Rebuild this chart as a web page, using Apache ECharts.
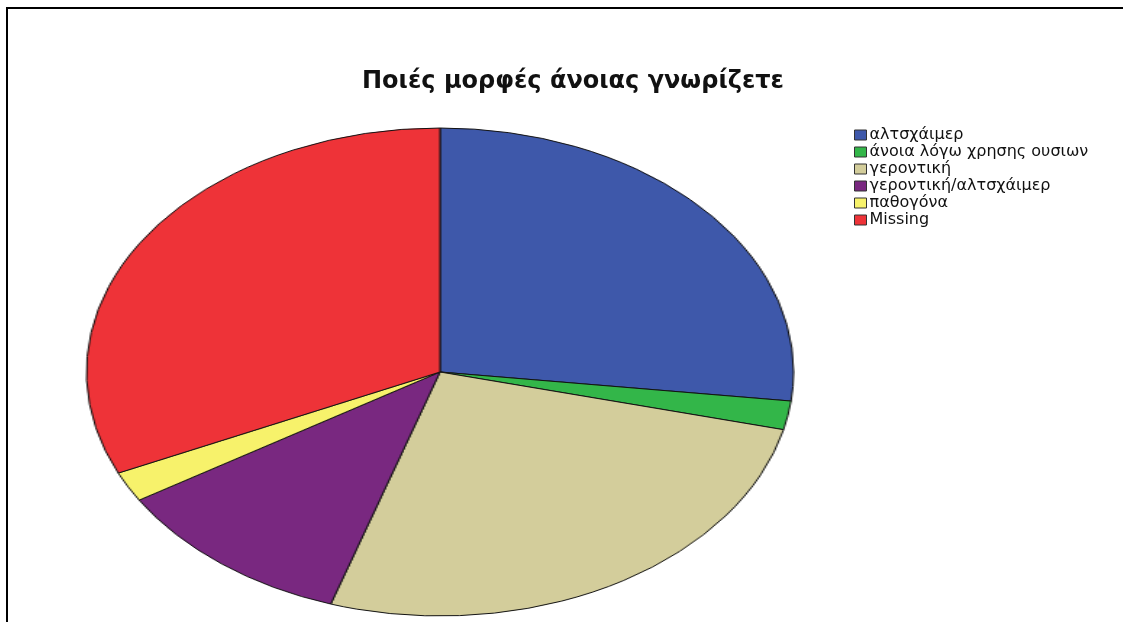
<!DOCTYPE html>
<html>
<head>
<meta charset="utf-8">
<script src="https://cdn.jsdelivr.net/npm/echarts@6/dist/echarts.min.js"></script>
<style>
  html, body { margin: 0; padding: 0; background: #fff; }
  #wrap { position: relative; width: 1123px; height: 622px; overflow: hidden; }
  #main { position: absolute; left: 0; top: 0; width: 1123px; height: 622px; }
  /* the pie is drawn round and stretched sideways into an ellipse */
  #pie { position: absolute; left: 195px; top: 127px; width: 490px; height: 490px;
         transform: scaleX(1.449); transform-origin: 245px 245px; }
</style>
</head>
<body>
<div id="wrap">
  <div id="main"></div>
  <div id="pie"></div>
</div>
<script>
const titleText = 'Ποιές μορφές άνοιας γνωρίζετε';
const categories = ['αλτσχάιμερ', 'άνοια λόγω χρησης ουσιων', 'γεροντική', 'γεροντική/αλτσχάιμερ', 'παθογόνα', 'Missing'];
// share of answers, in percent
const percents = [26.9, 1.9, 26.2, 11.2, 2.0, 31.8];
const colors = ['#3E58AA', '#33B649', '#D3CD9B', '#792880', '#F7F26B', '#EE3338'];

const pieData = categories.map((name, i) => ({ name, value: percents[i], itemStyle: { color: colors[i] } }));

const main = echarts.init(document.getElementById('main'), null, { renderer: 'canvas' });
main.setOption({
  animation: false,
  title: {
    text: titleText,
    left: 568,
    top: 65,
    textAlign: 'center',
    textStyle: { fontFamily: 'DejaVu Sans', fontSize: 24, fontWeight: 'bold', color: '#111' }
  },
  legend: {
    orient: 'vertical',
    left: 849,
    top: 122,
    icon: 'rect',
    itemWidth: 12,
    itemHeight: 10,
    itemGap: 1,
    selectedMode: false,
    itemStyle: { borderColor: '#333', borderWidth: 1 },
    textStyle: { fontFamily: 'DejaVu Sans', fontSize: 16, lineHeight: 15, color: '#111', padding: [0, 0, 0, -2] },
    data: categories
  },
  graphic: [{
    type: 'polyline',
    shape: { points: [[7, 622], [7, 8], [1123, 8]] },
    style: { stroke: '#000', lineWidth: 2, fill: null }
  }],
  series: [{
    // legend source only; the visible pie is the stretched one below
    type: 'pie',
    radius: [0, 0],
    center: [440, 372],
    silent: true,
    label: { show: false },
    data: pieData
  }]
});

const pie = echarts.init(document.getElementById('pie'), null, { renderer: 'canvas' });
pie.setOption({
  animation: false,
  series: [{
    type: 'pie',
    radius: 244,
    center: [245, 245],
    startAngle: 90,
    clockwise: true,
    silent: true,
    label: { show: false },
    labelLine: { show: false },
    itemStyle: { borderColor: '#111', borderWidth: 1 },
    data: pieData
  }]
});
</script>
</body>
</html>
